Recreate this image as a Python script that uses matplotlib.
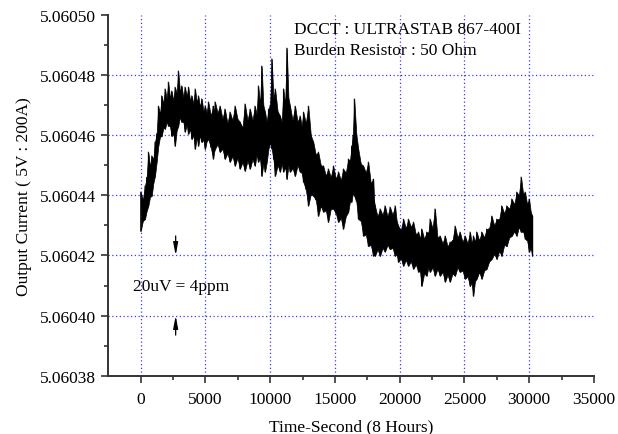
import numpy as np
import matplotlib
matplotlib.use("Agg")
import matplotlib.pyplot as plt

# ---- data ----
# envelope peaks/troughs, values in micro-units above 5.0604
t = [0, 330, 590, 850, 1100, 1360, 1620, 1880, 2130, 2390, 2650, 2900, 3160, 3420,
     3680, 3940, 4200, 4450, 4710, 4970, 5220, 5600, 5740, 6120, 6500, 6890, 7280,
     7660, 8050, 8440, 8820, 9080, 9340, 9600, 9860, 10120, 10380, 10760, 11020,
     11280, 11530, 11920, 12300, 12560, 12940, 13330, 13710, 14100, 14480, 14870,
     15260, 15640, 16030, 16280, 16490, 16800, 17190, 17570, 17960, 18090, 18480,
     18860, 19250, 19640, 19890, 20280, 20660, 21050, 21440, 21690, 22080, 22340,
     22720, 23110, 23500, 23880, 24270, 24650, 25040, 25430, 25680, 25940, 26330,
     26710, 27100, 27490, 27870, 28260, 28650, 29030, 29370, 29680, 29990, 30240]
hi_u = [41.1, 43.1, 54.4, 53.1, 57.7, 69.7, 73.1, 75.4, 77.7, 74.7, 76.0, 81.4, 76.4, 76.0,
        76.0, 73.1, 75.4, 73.1, 72.1, 69.7, 71.1, 69.7, 71.1, 69.7, 68.7, 67.7, 69.7,
        64.4, 70.4, 68.7, 69.7, 76.4, 83.0, 67.7, 68.7, 85.4, 75.4, 66.4, 75.4,
        89.0, 69.7, 69.7, 66.4, 67.7, 69.7, 57.7, 54.4, 49.8, 48.8, 49.8,
        47.8, 48.8, 52.1, 56.4, 72.1, 55.4, 49.8, 51.1, 45.4, 36.5, 35.5,
        36.5, 36.1, 36.5, 29.8, 32.1, 32.1, 31.1, 27.8, 28.8, 27.8, 32.1,
        35.5, 26.5, 26.5, 24.5, 29.8, 27.8, 26.5, 27.8, 26.5, 27.8, 27.8,
        28.8, 33.1, 32.1, 36.5, 36.5, 38.8, 41.1, 46.1, 41.1, 38.8, 33.1]
lo_u = [28.1, 32.1, 36.5, 39.8, 46.4, 56.4, 59.7, 62.1, 63.1, 59.7, 56.4, 63.1, 64.4, 61.1,
        60.4, 58.7, 55.4, 56.4, 57.7, 55.4, 58.7, 52.1, 55.4, 54.4, 52.1, 51.1, 49.8,
        48.8, 48.1, 48.8, 49.8, 51.1, 46.4, 47.8, 55.4, 55.4, 46.4, 47.8, 47.8,
        45.4, 47.8, 46.4, 47.8, 44.4, 36.5, 39.8, 33.1, 34.5, 31.1, 35.5,
        31.1, 28.8, 34.5, 37.8, 39.8, 32.1, 26.5, 23.1, 19.8, 19.8, 19.8,
        21.2, 22.1, 19.8, 17.8, 16.5, 16.5, 15.5, 14.5, 9.8, 13.2, 14.5,
        13.2, 13.2, 11.2, 11.2, 13.2, 14.5, 12.2, 9.8, 6.5, 12.2, 12.2,
        15.5, 18.8, 18.8, 19.8, 23.1, 26.5, 26.5, 27.8, 25.5, 21.2, 19.8]

# in-between envelope readings (where the noisy edges dip inward)
t_mid = [165, 460, 720, 975, 1230, 1490, 1750, 2005, 2260, 2520, 2775, 3030, 3290,
         3550, 3810, 4070, 4325, 4580, 4840, 5095, 5410, 5670, 5930, 6310, 6695,
         7085, 7470, 7855, 8245, 8630, 8950, 9210, 9470, 9730, 9990, 10250, 10570,
         10890, 11150, 11405, 11725, 12110, 12430, 12750, 13135, 13520, 13905,
         14290, 14675, 15065, 15450, 15835, 16155, 16385, 16645, 16995, 17380,
         17765, 18025, 18285, 18670, 19055, 19445, 19765, 20085, 20470, 20855,
         21245, 21565, 21885, 22210, 22530, 22915, 23305, 23690, 24075, 24460,
         24845, 25235, 25555, 25810, 26135, 26520, 26905, 27295, 27680, 28065,
         28455, 28840, 29200, 29525, 29835, 30115]
hi_mid = [38.5, 46.0, 49.5, 52.0, 60.5, 67.0, 70.5, 72.0, 72.5, 71.5, 74.0, 74.5, 72.5,
          73.0, 71.5, 70.5, 71.0, 69.5, 68.0, 67.5, 66.5, 67.0, 67.5, 65.5, 64.0,
          65.0, 65.5, 62.5, 65.0, 65.0, 67.0, 70.0, 70.0, 64.5, 70.0, 72.0, 68.0,
          64.5, 70.0, 72.5, 65.0, 64.5, 63.0, 64.0, 60.0, 53.5, 50.0,
          46.5, 46.0, 45.5, 45.0, 47.5, 51.5, 60.0, 60.5, 50.5, 47.5,
          44.0, 38.0, 33.0, 33.5, 33.0, 33.5, 31.5, 28.5, 29.0, 29.5,
          27.0, 25.5, 25.5, 27.5, 29.0, 26.0, 24.0, 23.0, 25.0, 26.0,
          24.5, 24.0, 24.0, 24.5, 25.0, 26.0, 29.0, 30.0, 32.0, 34.0,
          35.5, 37.0, 40.0, 40.5, 37.0, 34.5]
lo_mid = [31.5, 34.8, 39.5, 44.0, 51.0, 59.5, 62.5, 64.5, 63.0, 60.5, 61.5, 66.0, 64.5,
          63.5, 62.0, 60.0, 59.5, 60.0, 58.5, 58.0, 56.0, 54.5, 57.0, 55.5, 54.0,
          53.0, 52.5, 51.0, 51.5, 52.0, 53.5, 52.5, 50.5, 51.0, 57.5, 52.0, 50.0,
          50.5, 49.5, 50.0, 49.0, 50.0, 47.5, 42.0, 40.5, 38.5, 36.5,
          35.0, 35.5, 34.0, 32.5, 33.0, 38.0, 41.0, 38.0, 31.5, 27.0,
          23.5, 21.5, 22.0, 22.5, 23.5, 22.5, 20.5, 19.0, 18.5, 18.0,
          17.0, 15.0, 14.0, 16.0, 16.0, 15.5, 14.5, 13.5, 14.0, 16.0,
          15.0, 13.0, 11.0, 11.5, 14.5, 15.0, 18.0, 20.5, 21.5, 23.5,
          26.0, 28.0, 29.5, 28.0, 25.0, 22.5]

base = 5.0604

xticks = [0, 5000, 10000, 15000, 20000, 25000, 30000, 35000]
yticks = [5.06038, 5.06040, 5.06042, 5.06044, 5.06046, 5.06048, 5.06050]
xgrid = [0, 5000, 10000, 15000, 20000, 25000, 30000]
ygrid = [5.06040, 5.06042, 5.06044, 5.06046, 5.06048]

arrow_x = 2700
arrow_top = (5.0604265, 5.06042)
arrow_bot = (5.0603935, 5.06040)
label_x = 3100
label_y = 5.06041

# merge readings in time order
tt = np.array(t + t_mid, dtype=float)
hh = np.array(hi_u + hi_mid) * 1e-6 + base
ll = np.array(lo_u + lo_mid) * 1e-6 + base
order = np.argsort(tt)
tt, hh, ll = tt[order], hh[order], ll[order]

plt.rcParams['font.family'] = ['Liberation Serif', 'DejaVu Serif']

fig = plt.figure(figsize=(6.18, 4.35), dpi=100)
ax = fig.add_axes([108/618, 1-376.7/435, (594-108)/618, (376.7-16)/435])

for gx in xgrid:
    ax.axvline(gx, color='#3a3aff', lw=0.9, ls=(0, (1, 2)), zorder=1)
for gy in ygrid:
    ax.axhline(gy, color='#3a3aff', lw=0.9, ls=(0, (1, 2)), zorder=1)

ax.fill_between(tt, ll, hh, color='black', lw=0.5, zorder=3)
zx = np.repeat(tt, 2)
zy = np.empty(2 * len(tt))
zy[0::2] = ll
zy[1::2] = hh
ax.plot(zx, zy, color='black', lw=0.7, zorder=3)

ax.set_xlim(-2525, 35000)
ax.set_ylim(5.06038, 5.06050)
ax.set_xticks(xticks)
ax.set_yticks(yticks)
ax.set_yticklabels([f"{v:.5f}" for v in yticks])
ax.set_xticks([2500 + 5000 * i for i in range(7)], minor=True)
ax.set_yticks([5.06039 + 0.00002 * i for i in range(6)], minor=True)
ax.tick_params(axis='both', which='major', direction='out', length=5, width=1.2,
               labelsize=12.5, color='#333333')
ax.tick_params(axis='both', which='minor', direction='out', length=3, width=1.2,
               color='#333333')
ax.tick_params(axis='x', pad=6)

for s in ['top', 'right']:
    ax.spines[s].set_visible(False)
for s in ['left', 'bottom']:
    ax.spines[s].set_linewidth(1.4)
    ax.spines[s].set_color('#333333')

ax.set_xlabel('Time-Second (8 Hours)', fontsize=12.5, labelpad=8)
ax.set_ylabel('Output Current ( 5V : 200A)', fontsize=12.5, labelpad=6)

ax.text(0.383, 0.96, 'DCCT : ULTRASTAB 867-400I', transform=ax.transAxes,
        fontsize=12.5, va='center', ha='left')
ax.text(0.383, 0.902, 'Burden Resistor : 50 Ohm', transform=ax.transAxes,
        fontsize=12.5, va='center', ha='left')
ax.text(label_x, label_y, '20uV = 4ppm', fontsize=12.5, ha='center', va='center')

astyle = dict(arrowstyle='-|>,head_width=0.14,head_length=0.75', color='black',
              lw=0.9, mutation_scale=10, shrinkA=0, shrinkB=0)
ax.annotate('', xy=(arrow_x, arrow_top[1]), xytext=(arrow_x, arrow_top[0]),
            arrowprops=astyle)
ax.annotate('', xy=(arrow_x, arrow_bot[1]), xytext=(arrow_x, arrow_bot[0]),
            arrowprops=astyle)

fig.savefig('out.png', dpi=100)
